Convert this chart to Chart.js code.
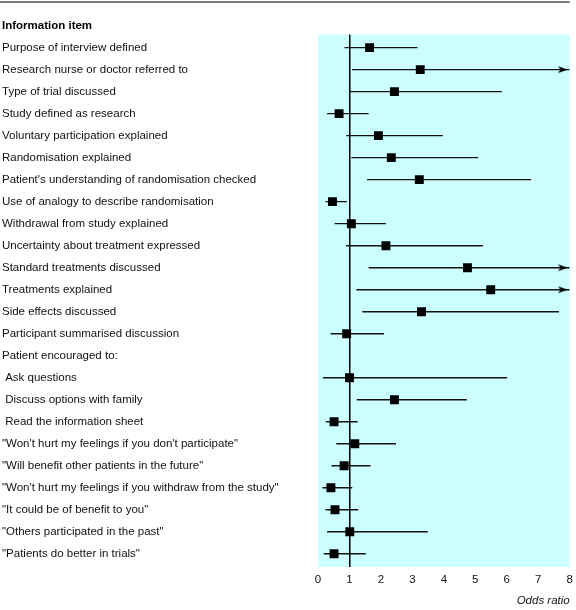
<!DOCTYPE html>
<html>
<head>
<meta charset="utf-8">
<script src="https://cdn.jsdelivr.net/npm/chart.js@4"></script>
<style>
  html, body { margin: 0; padding: 0; background: #fff; }
  #wrap { width: 576px; height: 610px; }
</style>
</head>
<body>
<div id="wrap"><canvas id="forest" width="576" height="610"></canvas></div>
<script>
var items = [
    "Purpose of interview defined",
    "Research nurse or doctor referred to",
    "Type of trial discussed",
    "Study defined as research",
    "Voluntary participation explained",
    "Randomisation explained",
    "Patient's understanding of randomisation checked",
    "Use of analogy to describe randomisation",
    "Withdrawal from study explained",
    "Uncertainty about treatment expressed",
    "Standard treatments discussed",
    "Treatments explained",
    "Side effects discussed",
    "Participant summarised discussion",
    "Patient encouraged to:",
    " Ask questions",
    " Discuss options with family",
    " Read the information sheet",
    "\"Won't hurt my feelings if you don't participate\"",
    "\"Will benefit other patients in the future\"",
    "\"Won't hurt my feelings if you withdraw from the study\"",
    "\"It could be of benefit to you\"",
    "\"Others participated in the past\"",
    "\"Patients do better in trials\""
];
var oddsRatio = [1.64, 3.25, 2.43, 0.67, 1.92, 2.33, 3.22, 0.46, 1.06, 2.16, 4.75, 5.49, 3.29, 0.91, null, 1.0, 2.43, 0.51, 1.17, 0.83, 0.41, 0.54, 1.01, 0.51];
var ciLow = [0.84, 1.08, 1.01, 0.29, 0.90, 1.06, 1.56, 0.24, 0.53, 0.89, 1.61, 1.22, 1.41, 0.40, null, 0.16, 1.23, 0.25, 0.58, 0.43, 0.14, 0.24, 0.29, 0.18];
// upper limits past the axis are cut at 8 and get an arrow
var ciHigh = [3.16, 8, 5.84, 1.61, 3.97, 5.09, 6.77, 0.92, 2.16, 5.24, 8, 8, 7.66, 2.10, null, 6.01, 4.73, 1.26, 2.48, 1.67, 1.09, 1.28, 3.49, 1.52];
var offScale = [false, true, false, false, false, false, false, false, false, false, true, true, false, false, false, false, false, false, false, false, false, false, false, false];
var xTicks = [0, 1, 2, 3, 4, 5, 6, 7, 8];

var points = [];
var ciLines = [];
var arrows = [];
for (var i = 0; i < items.length; i++) {
    if (oddsRatio[i] === null) continue;
    points.push({x: oddsRatio[i], y: i});
    ciLines.push({x: ciLow[i], y: i});
    ciLines.push({x: ciHigh[i], y: i});
    ciLines.push({x: ciHigh[i], y: null});
    if (offScale[i]) arrows.push({x: ciHigh[i], y: i});
}

// arrow head image, tip sits 2px left of the point
var arrowImg = document.createElement('canvas');
arrowImg.width = 24;
arrowImg.height = 9;
var actx = arrowImg.getContext('2d');
actx.fillStyle = '#000';
actx.beginPath();
actx.moveTo(10, 4.5);
actx.lineTo(0, 1);
actx.lineTo(3, 4.5);
actx.lineTo(0, 8);
actx.closePath();
actx.fill();

var backdrop = {
    id: 'backdrop',
    beforeDraw: function(chart) {
        var c = chart.ctx, a = chart.chartArea;
        c.save();
        c.fillStyle = '#ccffff';
        c.fillRect(a.left, a.top, a.right - a.left, a.bottom - a.top);
        c.strokeStyle = '#7a7a7a';
        c.lineWidth = 2;
        c.beginPath();
        c.moveTo(0, 2);
        c.lineTo(a.right, 2);
        c.stroke();
        c.restore();
    }
};

Chart.defaults.font.family = "'Liberation Sans', Arial, sans-serif";
Chart.defaults.font.size = 11.5;
Chart.defaults.color = '#111';

var ctx = document.getElementById('forest').getContext('2d');
var chart = new Chart(ctx, {
    type: 'scatter',
    data: {
        datasets: [{
            label: 'Odds ratio',
            data: points,
            pointStyle: 'rect',
            pointRadius: 6.3,
            pointBackgroundColor: '#000',
            pointBorderWidth: 0,
            order: 0
        }, {
            label: '95% CI',
            data: ciLines,
            showLine: true,
            spanGaps: false,
            borderColor: '#111',
            borderWidth: 1.4,
            pointRadius: 0,
            order: 2
        }, {
            label: 'arrow',
            data: arrows,
            pointStyle: arrowImg,
            pointRadius: 5,
            order: 1
        }]
    },
    options: {
        responsive: false,
        animation: false,
        events: [],
        layout: { padding: { left: 2, right: 6, top: 0, bottom: 0 } },
        plugins: {
            legend: { display: false },
            tooltip: { enabled: false },
            title: {
                display: true,
                text: 'Information item',
                align: 'start',
                color: '#000',
                font: { size: 11.5, weight: 'bold' },
                padding: { top: 18.6, bottom: 2 }
            }
        },
        scales: {
            x: {
                min: 0,
                max: 8,
                afterBuildTicks: function(scale) {
                    scale.ticks = xTicks.map(function(v) { return {value: v}; });
                },
                afterFit: function(scale) {
                    scale.height = 43;
                    scale.paddingRight = 4;
                },
                ticks: { padding: 6, color: '#111' },
                border: { display: false },
                grid: {
                    drawTicks: false,
                    lineWidth: 1.5,
                    color: function(c) { return c.tick && c.tick.value === 1 ? '#000' : 'rgba(0,0,0,0)'; }
                },
                title: {
                    display: true,
                    text: 'Odds ratio',
                    align: 'end',
                    color: '#111',
                    font: { size: 11.5, style: 'italic' },
                    padding: { top: 0, bottom: 2 }
                }
            },
            y: {
                min: -0.6,
                max: 23.6,
                reverse: true,
                afterBuildTicks: function(scale) {
                    scale.ticks = items.map(function(t, i) { return {value: i}; });
                },
                afterFit: function(scale) { scale.width = 316; },
                ticks: {
                    autoSkip: false,
                    crossAlign: 'far',
                    color: '#111',
                    callback: function(v) { return items[v]; }
                },
                border: { display: false },
                grid: { display: false }
            }
        }
    },
    plugins: [backdrop]
});
</script>
</body>
</html>
